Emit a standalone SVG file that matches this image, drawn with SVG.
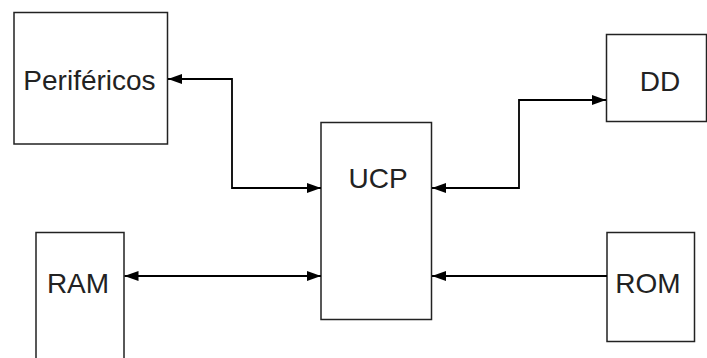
<svg xmlns="http://www.w3.org/2000/svg" width="707" height="358" viewBox="0 0 707 358">
<defs>
<style>
.box{fill:#fff;stroke:#222;stroke-width:1.5}
.lbl{font-family:"Liberation Sans",Arial,sans-serif;font-size:28px;fill:#222;text-anchor:middle}
.con{fill:none;stroke:#000;stroke-width:1.8}
</style>
<marker id="ah" viewBox="0 0 14 10" refX="14" refY="5" markerWidth="14" markerHeight="10" markerUnits="userSpaceOnUse" orient="auto-start-reverse">
<path d="M0,0 L14,5 L0,10 Z" fill="#000"/>
</marker>
</defs>
<rect width="707" height="358" fill="#fff"/>
<g id="perifericos"><rect class="box" x="14" y="12.5" width="153.5" height="131.5"/><text class="lbl" x="89.5" y="90">Periféricos</text></g>
<g id="ucp"><rect class="box" x="321" y="122.5" width="110.5" height="197"/><text class="lbl" x="378" y="188">UCP</text></g>
<g id="dd"><rect class="box" x="606.5" y="34.5" width="100" height="87"/><text class="lbl" x="660" y="90.5">DD</text></g>
<g id="ram"><rect class="box" x="36" y="232.5" width="88" height="140"/><text class="lbl" x="78" y="293">RAM</text></g>
<g id="rom"><rect class="box" x="607" y="232.5" width="87.5" height="109"/><text class="lbl" x="648" y="293">ROM</text></g>
<g id="connectors">
<path class="con" d="M168,79 H232 V188 H321" marker-start="url(#ah)" marker-end="url(#ah)"/>
<path class="con" d="M432,188 H519 V100 H606" marker-start="url(#ah)" marker-end="url(#ah)"/>
<path class="con" d="M124.5,276 H321" marker-start="url(#ah)" marker-end="url(#ah)"/>
<path class="con" d="M607,276 H432" marker-end="url(#ah)"/>
</g>
</svg>
